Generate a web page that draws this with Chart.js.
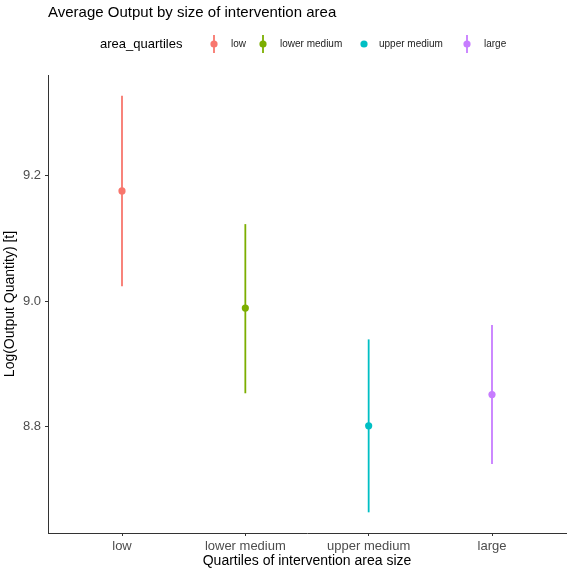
<!DOCTYPE html>
<html><head><meta charset="utf-8">
<script src="https://cdn.jsdelivr.net/npm/chart.js@4.4.0/dist/chart.umd.min.js"></script>
<style>html,body{margin:0;padding:0;background:#fff}#wrap{width:570px;height:570px}</style>
</head><body><div id="wrap"><canvas id="c" width="570" height="570"></canvas></div>
<script>
const categories = ['low', 'lower medium', 'upper medium', 'large'];
const means = [9.176, 8.989, 8.801, 8.851];
const lower = [9.024, 8.853, 8.663, 8.740];
const upper = [9.328, 9.123, 8.939, 8.962];
const yTicks = [8.8, 9.0, 9.2];
const colors = ['#F8766D', '#7CAE00', '#00BFC4', '#C77CFF'];
const chartTitle = 'Average Output by size of intervention area';
const legendTitle = 'area_quartiles';
const xTitle = 'Quartiles of intervention area size';
const yTitle = 'Log(Output Quantity) [t]';

const FONT = "'Liberation Sans', Arial, sans-serif";

const datasets = categories.map((c, i) => ({
  label: c,
  data: [{x: i + 1, y: lower[i]}, {x: i + 1, y: upper[i]}],
  showLine: true,
  borderColor: colors[i],
  borderWidth: 1.8,
  pointRadius: 0,
  fill: false
}));
datasets.push({
  label: 'mean',
  data: categories.map((c, i) => ({x: i + 1, y: means[i]})),
  showLine: false,
  pointRadius: 3.6,
  pointBackgroundColor: colors,
  pointBorderColor: colors,
  pointBorderWidth: 0
});

const headerPlugin = {
  id: 'header',
  afterDraw(chart) {
    const ctx = chart.ctx;
    ctx.save();
    ctx.textBaseline = 'middle';
    ctx.textAlign = 'left';
    ctx.fillStyle = '#000';
    ctx.font = '15px ' + FONT;
    ctx.fillText(chartTitle, 48, 13);
    ctx.font = '13px ' + FONT;
    ctx.fillText(legendTitle, 100, 44);
    const markerX = [214, 263, 364, 467];
    const textX = [231, 280, 379, 484];
    ctx.font = '10px ' + FONT;
    categories.forEach((c, i) => {
      ctx.strokeStyle = colors[i];
      ctx.fillStyle = colors[i];
      if (i !== 2) {
        ctx.lineWidth = 1.8;
        ctx.beginPath();
        ctx.moveTo(markerX[i], 35);
        ctx.lineTo(markerX[i], 53);
        ctx.stroke();
      }
      ctx.beginPath();
      ctx.arc(markerX[i], 44, 3.6, 0, Math.PI * 2);
      ctx.fill();
      ctx.fillStyle = '#222';
      ctx.fillText(c, textX[i], 44);
    });
    ctx.restore();
  }
};

new Chart(document.getElementById('c'), {
  type: 'scatter',
  data: {datasets},
  plugins: [headerPlugin],
  options: {
    responsive: false,
    animation: false,
    devicePixelRatio: 1,
    layout: {padding: {top: 75, right: 1, left: 0, bottom: 0}},
    plugins: {legend: {display: false}, tooltip: {enabled: false}, title: {display: false}},
    scales: {
      x: {
        type: 'linear',
        min: 0.4,
        max: 4.6,
        afterBuildTicks: s => { s.ticks = categories.map((c, i) => ({value: i + 1})); },
        afterFit: s => { s.height = 37; },
        ticks: {
          callback: v => categories[Math.round(v) - 1],
          font: {family: FONT, size: 13},
          color: '#4D4D4D',
          padding: 3,
          maxRotation: 0,
          autoSkip: false
        },
        grid: {drawOnChartArea: false, drawTicks: true, tickLength: 3, color: '#333'},
        border: {display: true, color: '#333', width: 1},
        title: {display: true, text: xTitle, font: {family: FONT, size: 14}, color: '#000', padding: {top: 0, bottom: 0}}
      },
      y: {
        type: 'linear',
        min: 8.63,
        max: 9.361,
        afterBuildTicks: s => { s.ticks = yTicks.map(v => ({value: v})); },
        afterFit: s => { s.width = 48; },
        ticks: {
          callback: v => Number(v).toFixed(1),
          font: {family: FONT, size: 13},
          color: '#4D4D4D',
          padding: 4
        },
        grid: {drawOnChartArea: false, drawTicks: true, tickLength: 3, color: '#333'},
        border: {display: true, color: '#333', width: 1},
        title: {display: true, text: yTitle, font: {family: FONT, size: 14}, color: '#000', padding: {top: 2, bottom: 0}}
      }
    }
  }
});
</script></body></html>
